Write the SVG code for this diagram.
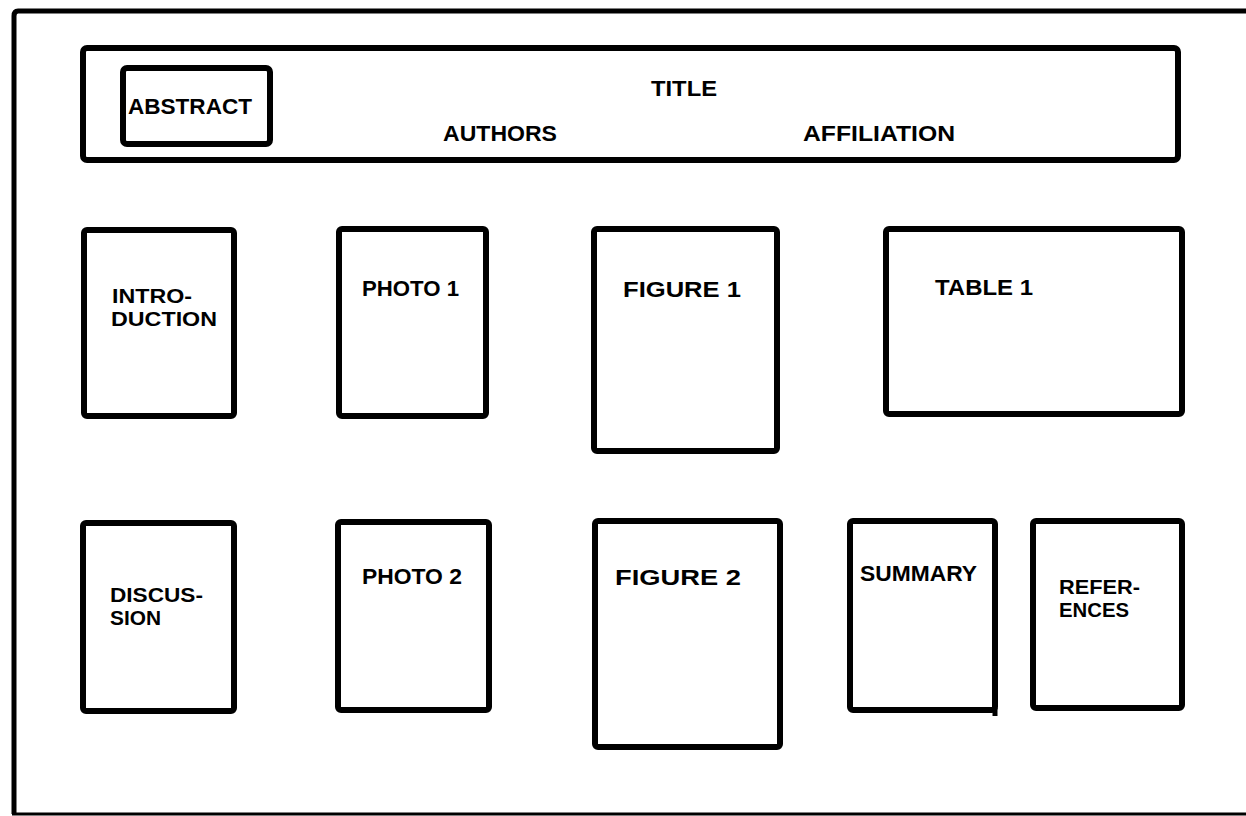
<svg xmlns="http://www.w3.org/2000/svg" width="1246" height="816" viewBox="0 0 1246 816">
<style>
.box{fill:none;stroke:#000;stroke-width:6;stroke-linejoin:round}
.t{font-family:"Liberation Sans",Arial,sans-serif;font-weight:bold;font-size:22.5px;fill:#000}
.t2{font-family:"Liberation Sans",Arial,sans-serif;font-weight:bold;font-size:20px;fill:#000}
</style>
<rect width="1246" height="816" fill="#fff"/>
<g id="page">
<path d="M1246,11 H18 Q14,11 14,16 V814" fill="none" stroke="#000" stroke-width="5"/>
<line x1="12" y1="814" x2="1246" y2="814" stroke="#000" stroke-width="3"/>
</g>
<g id="header">
<rect class="box" x="83" y="48" width="1095" height="112" rx="4"/>
<text class="t" x="651" y="96" textLength="66" lengthAdjust="spacingAndGlyphs">TITLE</text>
<text class="t" x="443" y="141" textLength="114" lengthAdjust="spacingAndGlyphs">AUTHORS</text>
<text class="t" x="803" y="141" textLength="152" lengthAdjust="spacingAndGlyphs">AFFILIATION</text>
</g>
<g id="abstract">
<rect class="box" x="123" y="68" width="147" height="76" rx="4"/>
<text class="t" x="128" y="114" textLength="124" lengthAdjust="spacingAndGlyphs">ABSTRACT</text>
</g>
<g id="introduction">
<rect class="box" x="84" y="230" width="150" height="186" rx="3"/>
<text class="t2" x="112" y="303" textLength="80" lengthAdjust="spacingAndGlyphs">INTRO-</text>
<text class="t2" x="111" y="326" textLength="106" lengthAdjust="spacingAndGlyphs">DUCTION</text>
</g>
<g id="photo1">
<rect class="box" x="339" y="229" width="147" height="187" rx="3"/>
<text class="t" x="362" y="296" textLength="97" lengthAdjust="spacingAndGlyphs">PHOTO 1</text>
</g>
<g id="figure1">
<rect class="box" x="594" y="229" width="183" height="222" rx="3"/>
<text class="t" x="623" y="297" textLength="118" lengthAdjust="spacingAndGlyphs">FIGURE  1</text>
</g>
<g id="table1">
<rect class="box" x="886" y="229" width="296" height="185" rx="3"/>
<text class="t" x="935" y="295" textLength="98" lengthAdjust="spacingAndGlyphs">TABLE 1</text>
</g>
<g id="discussion">
<rect class="box" x="83" y="523" width="151" height="188" rx="3"/>
<text class="t2" x="110" y="602" textLength="93" lengthAdjust="spacingAndGlyphs">DISCUS-</text>
<text class="t2" x="110" y="625" textLength="51" lengthAdjust="spacingAndGlyphs">SION</text>
</g>
<g id="photo2">
<rect class="box" x="338" y="522" width="151" height="188" rx="3"/>
<text class="t" x="362" y="584" textLength="100" lengthAdjust="spacingAndGlyphs">PHOTO 2</text>
</g>
<g id="figure2">
<rect class="box" x="595" y="521" width="185" height="226" rx="3"/>
<text class="t" x="615" y="585" textLength="126" lengthAdjust="spacingAndGlyphs">FIGURE 2</text>
</g>
<g id="summary">
<rect class="box" x="850" y="521" width="145" height="189" rx="3"/>
<line x1="995" y1="708" x2="995" y2="716" stroke="#000" stroke-width="5"/>
<text class="t" x="860" y="581" textLength="117" lengthAdjust="spacingAndGlyphs">SUMMARY</text>
</g>
<g id="references">
<rect class="box" x="1033" y="521" width="149" height="187" rx="3"/>
<text class="t2" x="1059" y="594" textLength="81" lengthAdjust="spacingAndGlyphs">REFER-</text>
<text class="t2" x="1059" y="617" textLength="70" lengthAdjust="spacingAndGlyphs">ENCES</text>
</g>
<g id="connectors"></g>
</svg>
